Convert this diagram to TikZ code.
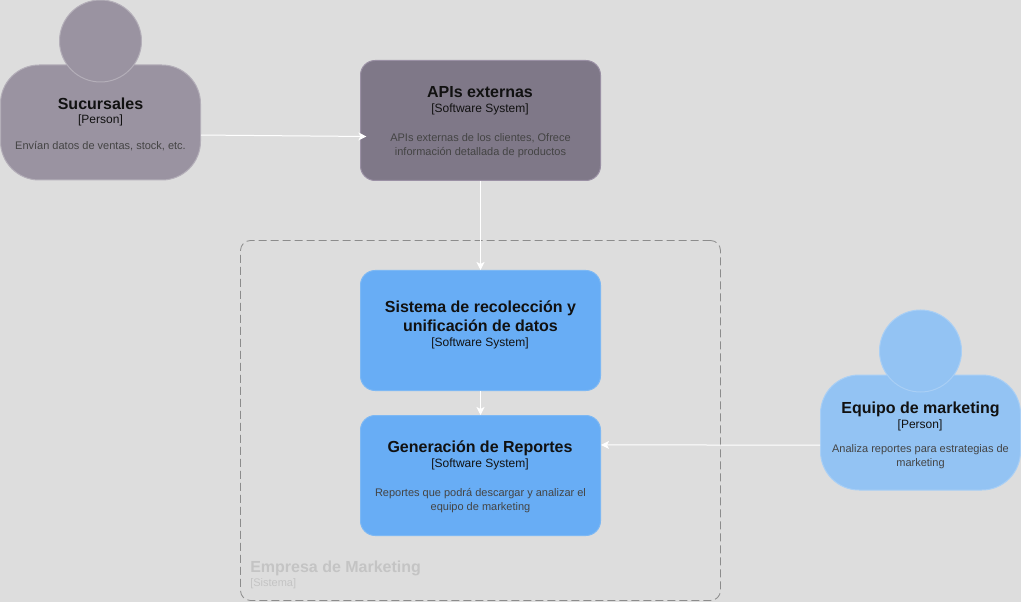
\documentclass[tikz,border=0pt]{standalone}
\usepackage{fontspec}
\setmainfont{Liberation Sans}
\usetikzlibrary{arrows.meta}
\definecolor{canvas-bg}{HTML}{DDDDDD}
\definecolor{person-grey}{HTML}{9A93A1}
\definecolor{person-grey-line}{HTML}{B4AFB9}
\definecolor{system-grey}{HTML}{7F7888}
\definecolor{system-grey-line}{HTML}{9A90A4}
\definecolor{system-blue}{HTML}{68ADF5}
\definecolor{system-blue-line}{HTML}{7DB8F4}
\definecolor{person-blue}{HTML}{93C3F3}
\definecolor{person-blue-line}{HTML}{A9CFF5}
\definecolor{frame-grey}{HTML}{8C8C8C}
\definecolor{frame-text}{HTML}{C4C4C4}
\definecolor{title-ink}{HTML}{111111}
\definecolor{desc-ink}{HTML}{444444}
\tikzset{
  box/.style={minimum width=180pt, minimum height=90pt, rounded corners=11pt, inner sep=0pt, line width=0.75pt},
  torso/.style={minimum width=150pt, minimum height=86.25pt, rounded corners=29pt, inner sep=0pt, line width=0.75pt},
  head/.style={circle, minimum size=61.5pt, inner sep=0pt, line width=0.75pt},
  title/.style={inner sep=0pt, align=center, text=title-ink, font=\bfseries\fontsize{12}{14.25}\selectfont},
  kind/.style={inner sep=0pt, text=title-ink, font=\fontsize{9}{11}\selectfont},
  desc/.style={inner sep=0pt, align=center, text=desc-ink, font=\fontsize{8.25}{10.5}\selectfont},
  link/.style={draw=white, line width=0.75pt, -{Stealth[length=6pt, width=6pt, inset=1.5pt]}}
}
\begin{document}
\begin{tikzpicture}[x=0.75pt, y=-0.75pt]
  \fill[canvas-bg] (0,0) rectangle (1021,602);
  \useasboundingbox (0,0) rectangle (1021,602);

  \node[draw=frame-grey, dash pattern=on 6pt off 3pt, minimum width=360pt, minimum height=270pt, rounded corners=7.5pt, line width=0.6pt, inner sep=0pt]
    (empresa) at (480.5,420.5) {};
  \node[anchor=west, inner sep=0pt, text=frame-text, font=\bfseries\fontsize{12}{14}\selectfont]
    (empresa-title) at (250,568.5) {Empresa de Marketing};
  \node[anchor=west, inner sep=0pt, text=frame-text, font=\fontsize{8.25}{10}\selectfont]
    (empresa-kind) at (250,584) {[Sistema]};

  \node[torso, draw=person-grey-line, fill=person-grey] (sucursales) at (100.5,122.5) {};
  \node[head, draw=person-grey-line, fill=person-grey] (sucursales-head) at (100.5,41) {};
  \node[title] (sucursales-title) at (100.5,104) {Sucursales};
  \node[kind] (sucursales-kind) at (100.5,120.5) {[Person]};
  \node[desc] (sucursales-desc) at (100.5,146) {Envían datos de ventas, stock, etc.};

  \node[box, draw=system-grey-line, fill=system-grey] (apis) at (480.5,120.5) {};
  \node[title] (apis-title) at (480,92.5) {APIs externas};
  \node[kind] (apis-kind) at (480,109) {[Software System]};
  \node[desc] (apis-desc) at (480.5,145.5) {APIs externas de los clientes, Ofrece\\información detallada de productos};

  \node[box, draw=system-blue-line, fill=system-blue] (recoleccion) at (480.5,330.5) {};
  \node[title] (recoleccion-title) at (480.5,316.5) {Sistema de recolección y\\unificación de datos};
  \node[kind] (recoleccion-kind) at (480,343) {[Software System]};

  \node[box, draw=system-blue-line, fill=system-blue] (reportes) at (480.5,475.5) {};
  \node[title] (reportes-title) at (480,448) {Generación de Reportes};
  \node[kind] (reportes-kind) at (480,464) {[Software System]};
  \node[desc] (reportes-desc) at (480.5,500.5) {Reportes que podrá descargar y analizar el\\equipo de marketing};

  \node[torso, draw=person-blue-line, fill=person-blue] (equipo) at (920.5,432.5) {};
  \node[head, draw=person-blue-line, fill=person-blue] (equipo-head) at (920.5,351) {};
  \node[title] (equipo-title) at (920.5,409) {Equipo de marketing};
  \node[kind] (equipo-kind) at (920,425) {[Person]};
  \node[desc] (equipo-desc) at (920.5,457) {Analiza reportes para estrategias de\\marketing};

  \draw[link] ([yshift=-9.4pt]sucursales.east) -- ([xshift=4.8pt, yshift=-12pt]apis.west);
  \draw[link] (apis.south) -- (recoleccion.north);
  \draw[link] (recoleccion.south) -- (reportes.north);
  \draw[link] ([yshift=-9.4pt]equipo.west) -- ([yshift=22.9pt]reportes.east);
\end{tikzpicture}
\end{document}
